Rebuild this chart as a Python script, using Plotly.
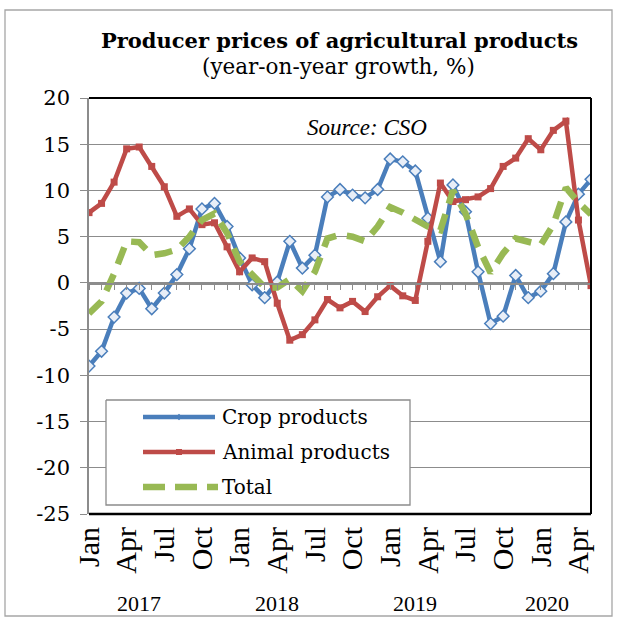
import plotly.graph_objects as go

# Monthly year-on-year growth, Jan 2017 - May 2020 (%)
months = ["Jan", "Feb", "Mar", "Apr", "May", "Jun", "Jul", "Aug", "Sep", "Oct", "Nov", "Dec"]
years = ["2017", "2018", "2019", "2020"]

crop = [-9.0, -7.4, -3.7, -1.1, -0.6, -2.8, -1.1, 0.9, 3.7, 8.0, 8.6, 6.1,
        2.7, -0.2, -1.6, 0.1, 4.5, 1.6, 3.0, 9.3, 10.1, 9.5, 9.2, 10.1,
        13.4, 13.1, 12.1, 7.0, 2.3, 10.6, 7.7, 1.2, -4.4, -3.6, 0.8, -1.6,
        -0.9, 1.0, 6.6, 9.6, 11.2]
animal = [7.6, 8.6, 10.9, 14.5, 14.7, 12.6, 10.4, 7.2, 8.0, 6.3, 6.5, 3.9,
          1.2, 2.7, 2.3, -2.2, -6.2, -5.6, -4.0, -1.8, -2.7, -2.0, -3.1, -1.5,
          -0.3, -1.4, -1.9, 4.5, 10.8, 8.8, 9.0, 9.3, 10.2, 12.6, 13.5, 15.6,
          14.4, 16.5, 17.5, 6.8, -0.3]
total = [-3.3, -2.0, 1.0, 4.5, 4.4, 3.0, 3.2, 3.6, 5.0, 6.8, 7.5, 5.4,
         2.3, 0.9, -0.5, -0.5, 0.4, -0.9, 1.2, 4.8, 5.2, 5.0, 4.5, 6.1,
         8.2, 7.6, 6.8, 6.1, 5.7, 10.0, 7.5, 3.9, 1.1, 3.2, 4.8, 4.5,
         4.1, 6.3, 10.3, 8.7, 7.4]

series_names = ["Crop products", "Animal products", "Total"]
year_label_pos = [4.0, 15.0, 26.0, 36.5]
y_ticks = [20, 15, 10, 5, 0, -5, -10, -15, -20, -25]

n = len(crop)
idx = list(range(n))
tick_idx = idx[::3]
tick_text = [months[i % 12] for i in tick_idx]

BLUE = "#4A7EBB"
RED = "#BE4B48"
GREEN = "#98B954"
GRID = "#8C8C8C"

W, H = 617, 617
L, R, T, B = 89, 591, 98, 514  # plot area in pixels


def px(x):
    return (x - L) / (R - L)


def py(y):
    return (B - y) / (B - T)


fig = go.Figure()

fig.add_trace(go.Scatter(
    x=idx, y=crop, mode="lines+markers", name=series_names[0],
    line=dict(color=BLUE, width=4.5),
    marker=dict(symbol="diamond", size=9, color="#E8EEF7",
                line=dict(color=BLUE, width=1.5)),
    showlegend=False))
fig.add_trace(go.Scatter(
    x=idx, y=animal, mode="lines+markers", name=series_names[1],
    line=dict(color=RED, width=4.5),
    marker=dict(symbol="square", size=7, color=RED),
    showlegend=False))
fig.add_trace(go.Scatter(
    x=idx, y=total, mode="lines", name=series_names[2],
    line=dict(color=GREEN, width=6.5, dash="18px,11px"),
    showlegend=False))

# zero axis with monthly tick marks (empty trace keeps the subplot alive)
fig.add_trace(go.Scatter(x=[], y=[], xaxis="x2", yaxis="y2", showlegend=False))

# legend drawn on a pixel-coordinate overlay
fig.add_trace(go.Scatter(
    x=[106, 410, 410, 106, 106], y=[400, 400, 505, 505, 400],
    xaxis="x3", yaxis="y3", mode="lines", fill="toself",
    fillcolor="white", line=dict(color="#8C8C8C", width=1.3),
    hoverinfo="skip", showlegend=False))
leg_y = [417, 452, 487]
fig.add_trace(go.Scatter(
    x=[143, 215], y=[leg_y[0]] * 2, xaxis="x3", yaxis="y3", mode="lines",
    line=dict(color=BLUE, width=4.5), showlegend=False, hoverinfo="skip"))
fig.add_trace(go.Scatter(
    x=[179], y=[leg_y[0]], xaxis="x3", yaxis="y3", mode="markers",
    marker=dict(symbol="diamond", size=5, color=BLUE), showlegend=False,
    hoverinfo="skip"))
fig.add_trace(go.Scatter(
    x=[143, 215], y=[leg_y[1]] * 2, xaxis="x3", yaxis="y3", mode="lines",
    line=dict(color=RED, width=4.5), showlegend=False, hoverinfo="skip"))
fig.add_trace(go.Scatter(
    x=[179], y=[leg_y[1]], xaxis="x3", yaxis="y3", mode="markers",
    marker=dict(symbol="square", size=6, color=RED), showlegend=False,
    hoverinfo="skip"))
fig.add_trace(go.Scatter(
    x=[143, 218], y=[leg_y[2]] * 2, xaxis="x3", yaxis="y3", mode="lines",
    line=dict(color=GREEN, width=6.5, dash="22px,10px"), showlegend=False,
    hoverinfo="skip"))

annotations = []
for name, yy in zip(series_names, leg_y):
    annotations.append(dict(
        x=220, y=yy, xref="x3", yref="y3", text=name, showarrow=False,
        xanchor="left", yanchor="middle",
        font=dict(family="DejaVu Serif", size=20, color="black")))

annotations.append(dict(
    x=367, y=127, xref="x3", yref="y3", text="<i>Source: CSO</i>",
    showarrow=False, xanchor="center", yanchor="middle",
    font=dict(family="Liberation Serif", size=23, color="black")))

annotations.append(dict(
    x=px(339), y=py(40), xref="paper", yref="paper",
    text="<b>Producer prices of agricultural products</b>", showarrow=False,
    xanchor="center", yanchor="middle",
    font=dict(family="DejaVu Serif", size=21, color="black")))
annotations.append(dict(
    x=px(338), y=py(66), xref="paper", yref="paper",
    text="(year-on-year growth, %)", showarrow=False,
    xanchor="center", yanchor="middle",
    font=dict(family="DejaVu Serif", size=21.5, color="black")))

for yr, pos in zip(years, year_label_pos):
    annotations.append(dict(
        x=pos, y=py(603), xref="x", yref="paper", text=yr, showarrow=False,
        xanchor="center", yanchor="middle",
        font=dict(family="Liberation Serif", size=22, color="black")))

shapes = [
    # plot-area frame (top, right, bottom)
    dict(type="line", xref="paper", yref="paper", x0=0, x1=1, y0=1, y1=1,
         line=dict(color="black", width=2)),
    dict(type="line", xref="paper", yref="paper", x0=1, x1=1, y0=0, y1=1,
         line=dict(color="black", width=2)),
    dict(type="line", xref="paper", yref="paper", x0=0, x1=1, y0=0, y1=0,
         line=dict(color="black", width=2.5)),
    # outer chart border
    dict(type="rect", xref="paper", yref="paper", x0=px(5), x1=px(612),
         y0=py(616), y1=py(10), line=dict(color="#A6A6A6", width=1.3)),
]

fig.update_layout(
    width=W, height=H,
    margin=dict(l=L, r=W - R, t=T, b=H - B),
    paper_bgcolor="white", plot_bgcolor="rgba(0,0,0,0)",
    showlegend=False,
    xaxis=dict(
        range=[0, n - 1], tickvals=tick_idx, ticktext=tick_text,
        tickangle=-90, ticks="", showgrid=False, zeroline=False,
        showline=False, ticklabelstandoff=6,
        tickfont=dict(family="Liberation Serif", size=30, color="black")),
    yaxis=dict(
        range=[-25, 20], tickvals=y_ticks, ticktext=[str(v) for v in y_ticks],
        showgrid=True, gridcolor=GRID,
        gridwidth=1.3, zeroline=False, showline=True, linecolor=GRID,
        linewidth=1.5, ticks="outside", ticklen=7, tickcolor=GRID,
        tickwidth=1.3, ticklabelstandoff=6,
        tickfont=dict(family="DejaVu Serif", size=21, color="black")),
    xaxis2=dict(
        overlaying="x", anchor="y2", range=[0, n - 1], dtick=1, tick0=0,
        showline=True, linecolor=GRID, linewidth=1.5, ticks="outside",
        ticklen=5, tickcolor=GRID, tickwidth=1.3, showticklabels=False,
        showgrid=False, zeroline=False),
    yaxis2=dict(domain=[25 / 45, 1], range=[0, 1], visible=False),
    xaxis3=dict(overlaying="x", anchor="y3", range=[L, R], visible=False),
    yaxis3=dict(overlaying="y", anchor="x3", range=[B, T], visible=False),
    annotations=annotations,
    shapes=shapes,
)

fig.write_html("out.html")
